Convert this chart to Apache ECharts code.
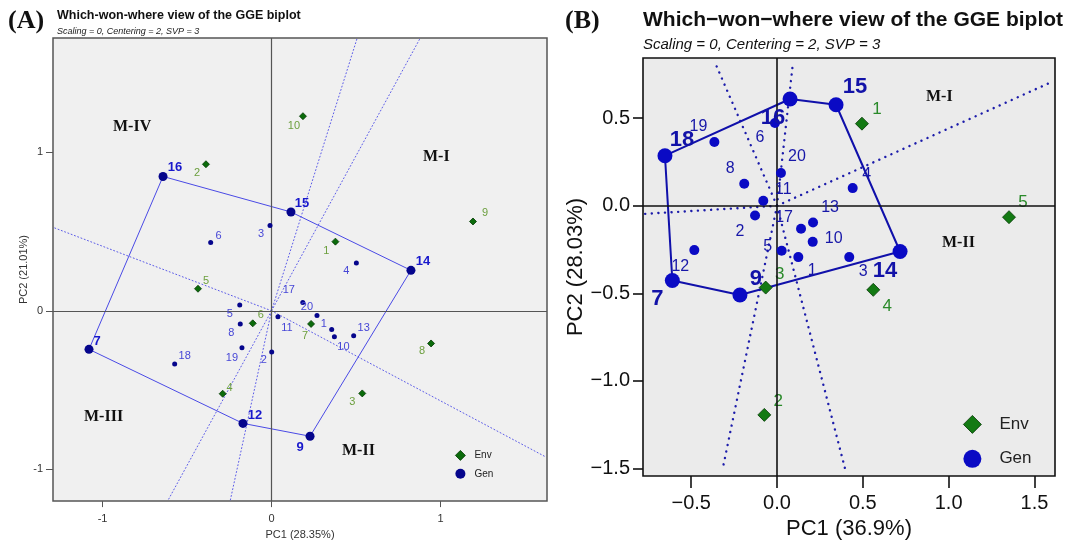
<!DOCTYPE html>
<html><head><meta charset="utf-8">
<script src="https://cdn.jsdelivr.net/npm/echarts@6/dist/echarts.min.js"></script>
<style>html,body{margin:0;padding:0;background:#fff}#c{width:1071px;height:545px}</style>
</head><body><div id="c"></div>
<script>
// ================= DATA =================
// Panel A (genotype / environment scores, PC1 & PC2)
const genA_names = ['1','2','3','4','5','6','7','8','9','10','11','12','13','14','15','16','17','18','19','20'];
const genA_pc1 = [0.356, 0.001, -0.009, 0.502, -0.188, -0.360, -1.080, -0.185, 0.228, 0.372, 0.038, -0.169, 0.486, 0.825, 0.115, -0.642, 0.185, -0.573, -0.175, 0.269];
const genA_pc2 = [-0.118, -0.260, 0.538, 0.301, 0.037, 0.430, -0.243, -0.083, -0.791, -0.164, -0.037, -0.710, -0.158, 0.255, 0.623, 0.847, 0.052, -0.336, -0.233, -0.029];
const envA_names = ['1','2','3','4','5','6','7','8','9','10'];
const envA_pc1 = [0.378, -0.388, 0.537, -0.289, -0.435, -0.111, 0.234, 0.944, 1.192, 0.186];
const envA_pc2 = [0.436, 0.924, -0.521, -0.523, 0.139, -0.079, -0.083, -0.206, 0.563, 1.227];
const hullA = ['16','15','14','9','12','7'];
const raysA_pc1 = [-1.285, 1.62, 0.507, 0.88, -0.615, -0.245];
const raysA_pc2 = [0.523, -0.92, 1.72, 1.72, -1.20, -1.20];
const ticksA_x = [-1, 0, 1];
const ticksA_y = [-1, 0, 1];

// Panel B
const genB_names = ['1','2','3','4','5','6','7','8','9','10','11','12','13','14','15','16','17','18','19','20'];
const genB_pc1 = [0.124, -0.128, 0.421, 0.441, 0.027, -0.012, -0.610, -0.191, -0.216, 0.208, -0.080, -0.482, 0.210, 0.717, 0.344, 0.076, 0.140, -0.653, -0.365, 0.023];
const genB_pc2 = [-0.293, -0.055, -0.293, 0.101, -0.257, 0.473, -0.427, 0.126, -0.509, -0.206, 0.029, -0.253, -0.095, -0.261, 0.577, 0.610, -0.131, 0.286, 0.364, 0.187];
const envB_names = ['1','2','3','4','5'];
const envB_pc1 = [0.495, -0.074, -0.066, 0.561, 1.352];
const envB_pc2 = [0.469, -1.194, -0.467, -0.480, -0.065];
const hullB = ['18','16','15','14','9','7'];
const raysB_pc1 = [-0.361, 0.093, 1.591, -0.769, -0.316, 0.396];
const raysB_pc2 = [0.817, 0.817, 0.703, -0.046, -1.499, -1.499];
const ticksB_x = [-0.5, 0, 0.5, 1, 1.5];
const ticksB_y = [-1.5, -1, -0.5, 0, 0.5];

// ================= LAYOUT (label offsets in px, not data) =================
const labOffGenA = [[-8,-6],[-8,8],[-9,9],[-10,8],[-10,9],[8,-7],[8,-8],[-9,9],[-10,11],[9,10],[9,11],[12,-8],[10,-8],[12,-9],[11,-9],[12,-9],[-14,-13],[10,-8],[-10,10],[-10,-8]];
const labOffEnvA = [[-9,9],[-9,9],[-10,9],[7,-6],[8,-8],[8,-8],[-6,12],[-9,8],[12,-9],[-9,10]];
const labOffGenB = [[14,13],[-15,16],[14,14],[14,-14],[-14,-4],[-15,15],[-15,18],[-14,-15],[16,-16],[21,-3],[20,-11],[-14,16],[17,-15],[-15,19],[19,-18],[-17,19],[-17,-11],[17,-16],[-16,-15],[16,-16]];
const labOffEnvB = [[15,-14],[14,-14],[14,-13],[14,16],[14,-15]];

const SANS = '"Liberation Sans", Arial, sans-serif';
const SERIF = '"Liberation Serif", "Times New Roman", serif';

const styleA = {
  bg:'#f0f0f0', frame:'#555', zero:'#555', zeroW:1.2,
  gen:'#05058c', genLab:'#4646d6', hullLab:'#1818cc', genSize:5, hullSize:9, genFs:11, hullFs:13,
  env:'#0b6b0b', envBorder:'#033a03', envLab:'#6c9f3e', envSize:7, envFs:11,
  hull:'#4a4ae6', hullW:1, ray:'#5c5ce8', rayW:1, rayType:[1,2.5]
};
const styleB = {
  bg:'#ebebeb', frame:'#111', zero:'#111', zeroW:1.6,
  gen:'#0a0ac4', genLab:'#1717a8', hullLab:'#1212a8', genSize:10, hullSize:15, genFs:16, hullFs:22,
  env:'#137a13', envBorder:'#053805', envLab:'#2a8a2a', envSize:13, envFs:17,
  hull:'#1010aa', hullW:2, ray:'#1c1caa', rayW:2.4, rayType:[0.1,6.5]
};

function panelSeries(gi, P, S) {
  const series = [];
  // rays
  P.rx.forEach((x, i) => {
    series.push({
      type:'line', xAxisIndex:gi, yAxisIndex:gi, data:[[0,0],[x, P.ry[i]]],
      symbol:'none', silent:true, clip:true, z:2,
      lineStyle:{color:S.ray, width:S.rayW, type:S.rayType, cap:'round'}
    });
  });
  // hull polygon
  const hd = P.hull.map(n => { const k = P.gn.indexOf(n); return [P.gx[k], P.gy[k]]; });
  hd.push(hd[0]);
  series.push({
    type:'line', xAxisIndex:gi, yAxisIndex:gi, data:hd, symbol:'none', silent:true, z:3,
    lineStyle:{color:S.hull, width:S.hullW},
    markLine:{silent:true, symbol:['none','none'], label:{show:false}, animation:false,
      lineStyle:{color:S.zero, width:S.zeroW, type:'solid'}, data:[{xAxis:0},{yAxis:0}]}
  });
  // environments
  series.push({
    name:'Env', type:'scatter', xAxisIndex:gi, yAxisIndex:gi, symbol:'diamond', symbolSize:S.envSize, z:4,
    itemStyle:{color:S.env, borderColor:S.envBorder, borderWidth:0.8, opacity:1},
    data:P.en.map((n,i)=>({name:n, value:[P.ex[i], P.ey[i]],
      label:{show:true, position:'inside', offset:P.eo[i], formatter:'{b}', color:S.envLab, fontSize:S.envFs, fontFamily:SANS}}))
  });
  // genotypes
  series.push({
    name:'Gen', type:'scatter', xAxisIndex:gi, yAxisIndex:gi, symbol:'circle', z:5,
    itemStyle:{color:S.gen, opacity:1},
    data:P.gn.map((n,i)=>{
      const h = P.hull.indexOf(n) >= 0;
      return {name:n, value:[P.gx[i], P.gy[i]], symbolSize: h ? S.hullSize : S.genSize,
        label:{show:true, position:'inside', offset:P.go[i], formatter:'{b}',
          color: h ? S.hullLab : S.genLab, fontSize: h ? S.hullFs : S.genFs,
          fontWeight: h ? 'bold' : 'normal', fontFamily:SANS}};
    })
  });
  return series;
}

const PA = {gn:genA_names, gx:genA_pc1, gy:genA_pc2, go:labOffGenA, en:envA_names, ex:envA_pc1, ey:envA_pc2, eo:labOffEnvA, hull:hullA, rx:raysA_pc1, ry:raysA_pc2};
const PB = {gn:genB_names, gx:genB_pc1, gy:genB_pc2, go:labOffGenB, en:envB_names, ex:envB_pc1, ey:envB_pc2, eo:labOffEnvB, hull:hullB, rx:raysB_pc1, ry:raysB_pc2};

const fmtB = v => (Math.abs(v) < 1e-9 ? 0 : v).toFixed(1).replace('-', '\u2212');

const option = {
  animation:false,
  backgroundColor:'#ffffff',
  grid:[
    {left:53, top:38, width:494, height:469, show:true, backgroundColor:styleA.bg, borderColor:styleA.frame, borderWidth:1.5},
    {left:643, top:58, width:412, height:418, show:true, backgroundColor:styleB.bg, borderColor:styleB.frame, borderWidth:1.6}
  ],
  xAxis:[
    {gridIndex:0, type:'value', min:-1.293, max:1.63, splitLine:{show:false},
     axisLine:{show:false, onZero:false},
     axisTick:{show:true, length:6, customValues:ticksA_x, lineStyle:{color:'#555'}},
     axisLabel:{customValues:ticksA_x, margin:12, color:'#333', fontSize:11, fontFamily:SANS},
     name:'PC1 (28.35%)', nameLocation:'middle', nameGap:24, nameTextStyle:{color:'#333', fontSize:11, fontFamily:SANS}},
    {gridIndex:1, type:'value', min:-0.781, max:1.62, splitLine:{show:false},
     axisLine:{show:false, onZero:false},
     axisTick:{show:true, length:12, customValues:ticksB_x, lineStyle:{color:'#111', width:1.6}},
     axisLabel:{customValues:ticksB_x, margin:17, color:'#111', fontSize:20, fontFamily:SANS, formatter:fmtB},
     name:'PC1 (36.9%)', nameLocation:'middle', nameGap:41, nameTextStyle:{color:'#111', fontSize:22, fontFamily:SANS}}
  ],
  yAxis:[
    {gridIndex:0, type:'value', min:-1.20, max:1.72, splitLine:{show:false},
     axisLine:{show:false, onZero:false},
     axisTick:{show:true, length:7, customValues:ticksA_y, lineStyle:{color:'#555'}},
     axisLabel:{customValues:ticksA_y, margin:10, color:'#333', fontSize:11, fontFamily:SANS},
     name:'PC2 (21.01%)', nameLocation:'middle', nameGap:23, nameRotate:90, nameTextStyle:{color:'#333', fontSize:11, fontFamily:SANS}},
    {gridIndex:1, type:'value', min:-1.543, max:0.844, splitLine:{show:false},
     axisLine:{show:false, onZero:false},
     axisTick:{show:true, length:10, customValues:ticksB_y, lineStyle:{color:'#111', width:1.6}},
     axisLabel:{customValues:ticksB_y, margin:13, color:'#111', fontSize:20, fontFamily:SANS, formatter:fmtB},
     name:'PC2 (28.03%)', nameLocation:'middle', nameGap:55, nameRotate:90, nameTextStyle:{color:'#111', fontSize:22, fontFamily:SANS}}
  ],
  legend:[
    {orient:'vertical', left:450, top:445, itemWidth:10, itemHeight:10, itemGap:8,
     textStyle:{fontSize:10, color:'#222', fontFamily:SANS, padding:[0,0,0,4]},
     data:[{name:'Env', icon:'diamond', itemStyle:{color:styleA.env, borderColor:styleA.envBorder, borderWidth:0.8}},
           {name:'Gen', icon:'circle', itemStyle:{color:styleA.gen}}]},
    {orient:'vertical', left:958, top:410, itemWidth:18, itemHeight:18, itemGap:16,
     textStyle:{fontSize:17, color:'#222', fontFamily:SANS, padding:[0,0,0,13]},
     data:[{name:'Env', icon:'diamond', itemStyle:{color:styleB.env, borderColor:styleB.envBorder, borderWidth:0.8}},
           {name:'Gen', icon:'circle', itemStyle:{color:styleB.gen}}]}
  ],
  graphic:[
    {type:'text', left:8, top:8, style:{text:'(A)', font:'bold 26px ' + SERIF, fill:'#111'}},
    {type:'text', left:57, top:9, style:{text:'Which-won-where view of the GGE biplot', font:'bold 12.5px ' + SANS, fill:'#111'}},
    {type:'text', left:57, top:27, style:{text:'Scaling = 0, Centering = 2, SVP = 3', font:'italic 9px ' + SANS, fill:'#222'}},
    {type:'text', left:113, top:119, style:{text:'M-IV', font:'bold 16px ' + SERIF, fill:'#111'}},
    {type:'text', left:423, top:149, style:{text:'M-I', font:'bold 16px ' + SERIF, fill:'#111'}},
    {type:'text', left:84, top:409, style:{text:'M-III', font:'bold 16px ' + SERIF, fill:'#111'}},
    {type:'text', left:342, top:443, style:{text:'M-II', font:'bold 16px ' + SERIF, fill:'#111'}},

    {type:'text', left:565, top:8, style:{text:'(B)', font:'bold 26px ' + SERIF, fill:'#111'}},
    {type:'text', left:643, top:10, style:{text:'Which\u2212won\u2212where view of the GGE biplot', font:'bold 21px ' + SANS, fill:'#111'}},
    {type:'text', left:643, top:37, style:{text:'Scaling = 0, Centering = 2, SVP = 3', font:'italic 15px ' + SANS, fill:'#111'}},
    {type:'text', left:926, top:89, style:{text:'M-I', font:'bold 16px ' + SERIF, fill:'#111'}},
    {type:'text', left:942, top:235, style:{text:'M-II', font:'bold 16px ' + SERIF, fill:'#111'}}
  ],
  series:[].concat(panelSeries(0, PA, styleA), panelSeries(1, PB, styleB))
};

const chart = echarts.init(document.getElementById('c'), null, {renderer:'canvas'});
chart.setOption(option);
</script></body></html>
